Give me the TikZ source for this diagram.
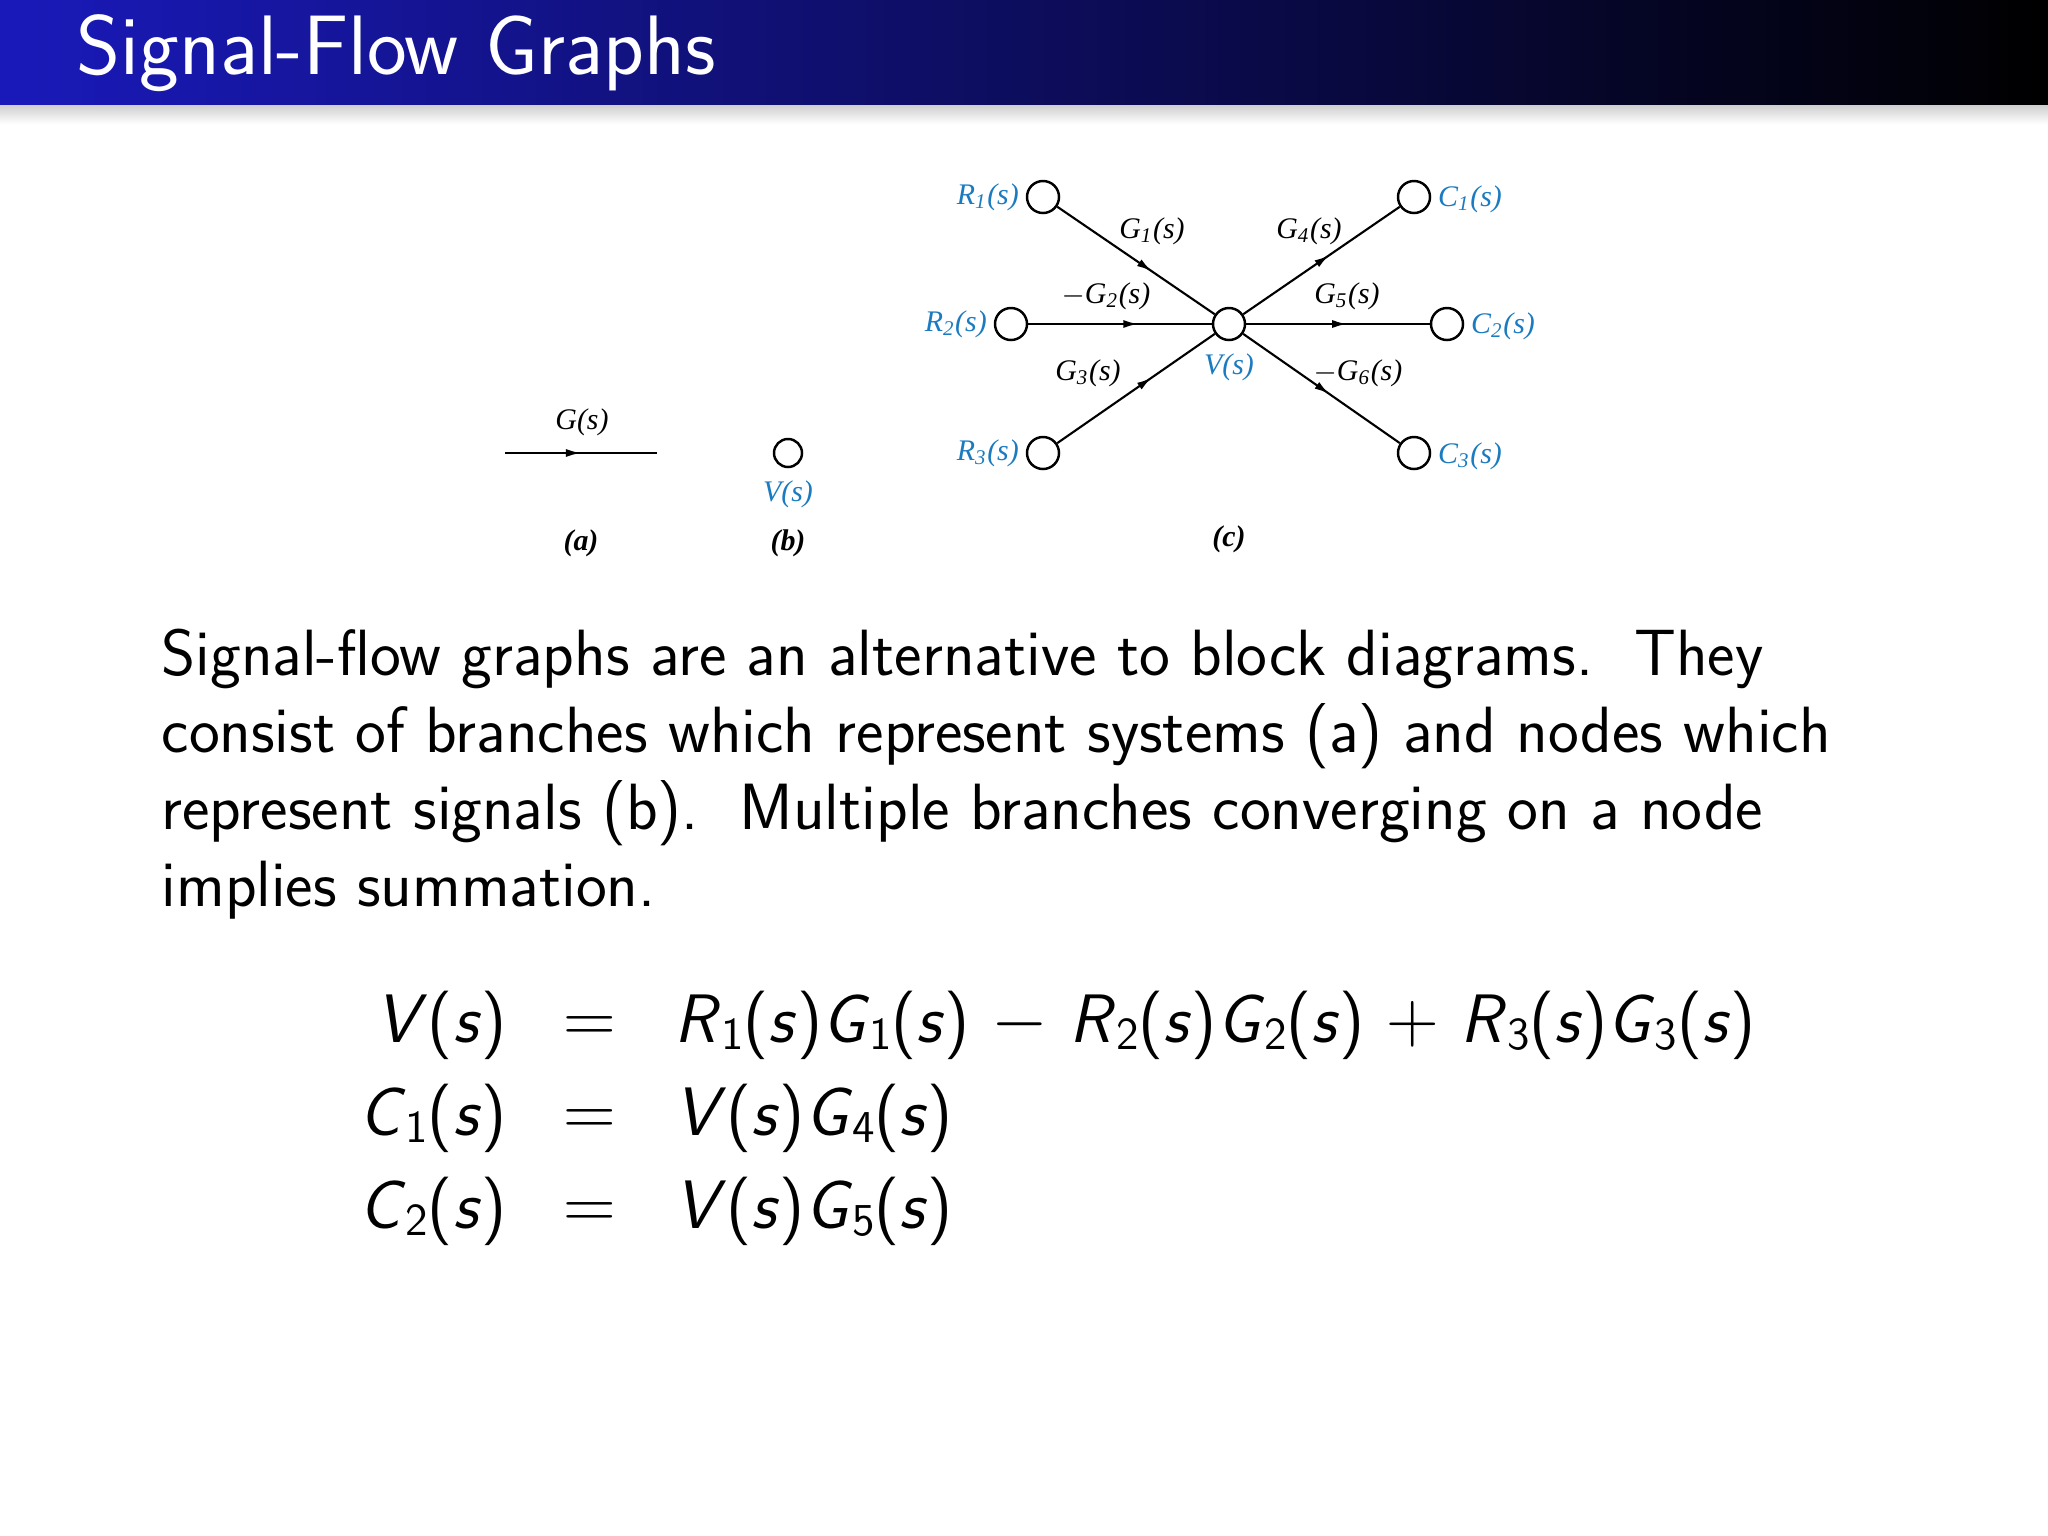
\documentclass[tikz,border=0pt]{standalone}
\usepackage{fontspec}
\newfontfamily\tms{Liberation Serif}
\usetikzlibrary{arrows.meta,decorations.markings,shadings}
\definecolor{lblue}{HTML}{1B7BC0}
\tikzset{
  sn/.style={circle,draw,line width=0.7pt,minimum size=0.32cm,inner sep=0,fill=white},
  br/.style={line width=0.6pt,postaction={decorate},decoration={markings,mark=at position #1 with {\arrow{Latex[length=0.15cm,width=0.08cm]}}}},
  br/.default=0.6,
  lb/.style={font=\tms\fontsize{8.5}{10}\selectfont\itshape,inner sep=1pt},
  cl/.style={font=\tms\fontsize{8.5}{10}\selectfont\bfseries\itshape,inner sep=1pt},
  bl/.style={lb,text=lblue},
  body/.style={anchor=base west,font=\sffamily\fontsize{18.6}{22}\selectfont,inner sep=0},
  eq/.style={anchor=base,font=\sffamily\fontsize{19.5}{23}\selectfont,inner sep=0}
}
\newcommand\iv[1]{\textit{#1}}
\newcommand\sbs[1]{\raisebox{-0.25ex}{\fontsize{13}{15}\selectfont #1}}
\begin{document}
\begin{tikzpicture}[x=0.01cm,y=-0.01cm]
\useasboundingbox (0,0) rectangle (2048,1536);
\fill[white] (0,0) rectangle (2048,1536);
\fill[top color=black!20,bottom color=white] (0,104) rectangle (2048,124);
\shade[left color=blue!70!black!90,right color=black] (0,0) rectangle (2048,104);
\node[anchor=base west,text=white,font=\sffamily\fontsize{24}{28}\selectfont,inner sep=0] (title) at (76,74) {Signal-Flow Graphs};
% (a)
\coordinate (a1) at (505,453); \coordinate (a2) at (657,453);
\draw[br=0.5] (a1) -- (a2);
\node[lb] (ga) at (582,422) {G(s)};
\node[cl] (la) at (581,543) {(a)};
% (b)
\node[sn,minimum size=0.28cm] (vb) at (788,453) {};
\node[bl] (vbl) at (788,494) {V(s)};
\node[cl] (lbb) at (788,543) {(b)};
% (c)
\node[sn] (R1) at (1043,197) {};
\node[sn] (R2) at (1011,324) {};
\node[sn] (R3) at (1043,453) {};
\node[sn] (V) at (1229,324) {};
\node[sn] (C1) at (1414,197) {};
\node[sn] (C2) at (1447,324) {};
\node[sn] (C3) at (1414,453) {};
\draw[br] (R1) -- (V);
\draw[br] (R2) -- (V);
\draw[br] (R3) -- (V);
\draw[br=0.55] (V) -- (C1);
\draw[br=0.55] (V) -- (C2);
\draw[br=0.55] (V) -- (C3);
\node[bl,anchor=east] at (1023,197) {R\textsubscript{1}(s)};
\node[bl,anchor=east] at (991,324) {R\textsubscript{2}(s)};
\node[bl,anchor=east] at (1023,453) {R\textsubscript{3}(s)};
\node[bl,anchor=west] at (1434,199) {C\textsubscript{1}(s)};
\node[bl,anchor=west] at (1467,326) {C\textsubscript{2}(s)};
\node[bl,anchor=west] at (1434,456) {C\textsubscript{3}(s)};
\node[bl] at (1229,367) {V(s)};
\node[lb] at (1152,231) {G\textsubscript{1}(s)};
\node[lb] at (1309,231) {G\textsubscript{4}(s)};
\node[lb] at (1106,296) {$-$G\textsubscript{2}(s)};
\node[lb] at (1347,296) {G\textsubscript{5}(s)};
\node[lb] at (1088,373) {G\textsubscript{3}(s)};
\node[lb] at (1358,373) {$-$G\textsubscript{6}(s)};
\node[cl] at (1229,539) {(c)};
% body
\node[body] (t1) at (161,675) {Signal-flow graphs are an alternative to block diagrams.\ \ They};
\node[body] (t2) at (161,752) {consist of branches which represent systems (a) and nodes which};
\node[body] (t3) at (161,829) {represent signals (b).\ \ Multiple branches converging on a node};
\node[body] (t4) at (161,906) {implies summation.};
% equations
\node[eq,anchor=base east] (l1) at (507,1042) {\iv{V}(\iv{s})};
\node[eq,anchor=base east] (l2) at (507,1135) {\iv{C}\sbs{1}(\iv{s})};
\node[eq,anchor=base east] (l3) at (507,1228) {\iv{C}\sbs{2}(\iv{s})};
\node[eq] at (590,1042) {$=$};
\node[eq] at (590,1135) {$=$};
\node[eq] at (590,1228) {$=$};
\node[eq,anchor=base west] (r1) at (674,1042) {\iv{R}\sbs{1}(\iv{s})\iv{G}\sbs{1}(\iv{s}) $-$ \iv{R}\sbs{2}(\iv{s})\iv{G}\sbs{2}(\iv{s}) $+$ \iv{R}\sbs{3}(\iv{s})\iv{G}\sbs{3}(\iv{s})};
\node[eq,anchor=base west] (r2) at (674,1135) {\iv{V}(\iv{s})\iv{G}\sbs{4}(\iv{s})};
\node[eq,anchor=base west] (r3) at (674,1228) {\iv{V}(\iv{s})\iv{G}\sbs{5}(\iv{s})};
\end{tikzpicture}
\end{document}
